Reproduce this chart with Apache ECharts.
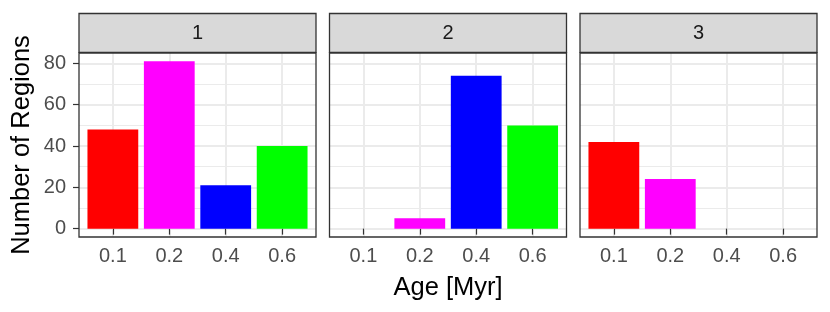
<!DOCTYPE html>
<html>
<head>
<meta charset="utf-8">
<script src="https://cdn.jsdelivr.net/npm/echarts@6/dist/echarts.min.js"></script>
<style>html,body{margin:0;padding:0;background:#fff}#c{width:830px;height:312px}</style>
</head>
<body>
<div id="c"></div>
<script>
// ---- data ----
const ages = ['0.1', '0.2', '0.4', '0.6'];
const panels = ['1', '2', '3'];
const counts1 = [48, 81, 21, 40];
const counts2 = [null, 5, 74, 50];
const counts3 = [42, 24, null, null];
const barColors = ['#FF0000', '#FF00FF', '#0000FF', '#00FF00'];
const yTicks = [0, 20, 40, 60, 80];
const yMinorTicks = [10, 30, 50, 70];
const yTitle = 'Number of Regions';
const xTitle = 'Age [Myr]';

// ---- layout ----
const FONT = '"Liberation Sans", Arial, Helvetica, sans-serif';
const left0 = 79, panelW = 237, gap = 13.5, panelTop = 53, panelH = 184, stripTop = 13.5;
const lefts = panels.map((p, i) => left0 + i * (panelW + gap));
const allCounts = [counts1, counts2, counts3];
const dataMax = Math.max(...allCounts.flat().filter(v => v != null));
const yMin = -0.05 * dataMax, yMax = dataMax * 1.05;
const xMin = 1 - 0.6, xMax = ages.length + 0.6;
const catIdx = ages.map((a, k) => k + 1);
const barW = 0.9 * panelW / (xMax - xMin);

const grids = [], xAxes = [], yAxes = [], series = [], titles = [], graphics = [];
panels.forEach((p, i) => {
  grids.push({ left: lefts[i], top: panelTop, width: panelW, height: panelH, show: true,
    backgroundColor: '#ffffff', borderWidth: 0, containLabel: false, outerBoundsMode: 'none' });
  xAxes.push({
    type: 'value', gridIndex: i, min: xMin, max: xMax,
    name: i === 1 ? xTitle : '', nameLocation: 'middle', nameGap: 38, nameMoveOverlap: false,
    nameTextStyle: { fontSize: 25.5, color: '#000000', fontFamily: FONT },
    axisLine: { show: false },
    axisTick: { show: true, customValues: catIdx, length: 6, lineStyle: { color: '#333333', width: 1.2 } },
    axisLabel: { show: true, customValues: catIdx, formatter: v => ages[Math.round(v) - 1], margin: 9,
      fontSize: 20, color: '#4d4d4d', fontFamily: FONT },
    splitLine: { show: true, lineStyle: { color: '#ebebeb', width: 2 } }
  });
  yAxes.push({
    type: 'value', gridIndex: i, min: yMin, max: yMax, position: 'left',
    name: i === 0 ? yTitle : '', nameLocation: 'middle', nameGap: 44, nameRotate: 90, nameMoveOverlap: false,
    nameTextStyle: { fontSize: 25.5, color: '#000000', fontFamily: FONT },
    axisLine: { show: false },
    axisTick: { show: i === 0, customValues: yTicks, length: 6, lineStyle: { color: '#333333', width: 1.2 } },
    axisLabel: { show: i === 0, customValues: yTicks, margin: 13, fontSize: 20, color: '#4d4d4d', fontFamily: FONT },
    splitLine: { show: true, lineStyle: { color: '#ebebeb', width: 2 } }
  });
  series.push({
    type: 'bar', xAxisIndex: i, yAxisIndex: i, barWidth: barW, z: 3,
    data: allCounts[i].map((v, k) => v == null ? null : { value: [k + 1, v], itemStyle: { color: barColors[k] } })
      .filter(d => d != null)
  });
  titles.push({ text: p, left: lefts[i] + panelW / 2, top: (stripTop + panelTop) / 2 + 0.5, textAlign: 'center',
    textVerticalAlign: 'middle', padding: 0,
    textStyle: { fontSize: 20, fontWeight: 'normal', color: '#1a1a1a', fontFamily: FONT } });
  graphics.push({ type: 'rect', z: 1, silent: true,
    shape: { x: lefts[i], y: stripTop, width: panelW, height: panelTop - stripTop - 0.7 },
    style: { fill: '#d9d9d9', stroke: '#333333', lineWidth: 1.3 } });
  graphics.push({ type: 'rect', z: 50, silent: true,
    shape: { x: lefts[i], y: panelTop, width: panelW, height: panelH },
    style: { fill: null, stroke: '#333333', lineWidth: 1.3 } });
});
// minor horizontal gridlines: hidden secondary y axes
panels.forEach((p, i) => {
  yAxes.push({
    type: 'value', gridIndex: i, min: yMin, max: yMax, position: 'right',
    axisLine: { show: false }, axisLabel: { show: false },
    axisTick: { show: false, customValues: yMinorTicks },
    splitLine: { show: true, lineStyle: { color: '#ebebeb', width: 1 } }
  });
});

const chart = echarts.init(document.getElementById('c'), null, { renderer: 'canvas' });
chart.setOption({
  animation: false,
  backgroundColor: '#ffffff',
  title: titles,
  grid: grids,
  xAxis: xAxes,
  yAxis: yAxes,
  series: series,
  graphic: { elements: graphics }
});
</script>
</body>
</html>
